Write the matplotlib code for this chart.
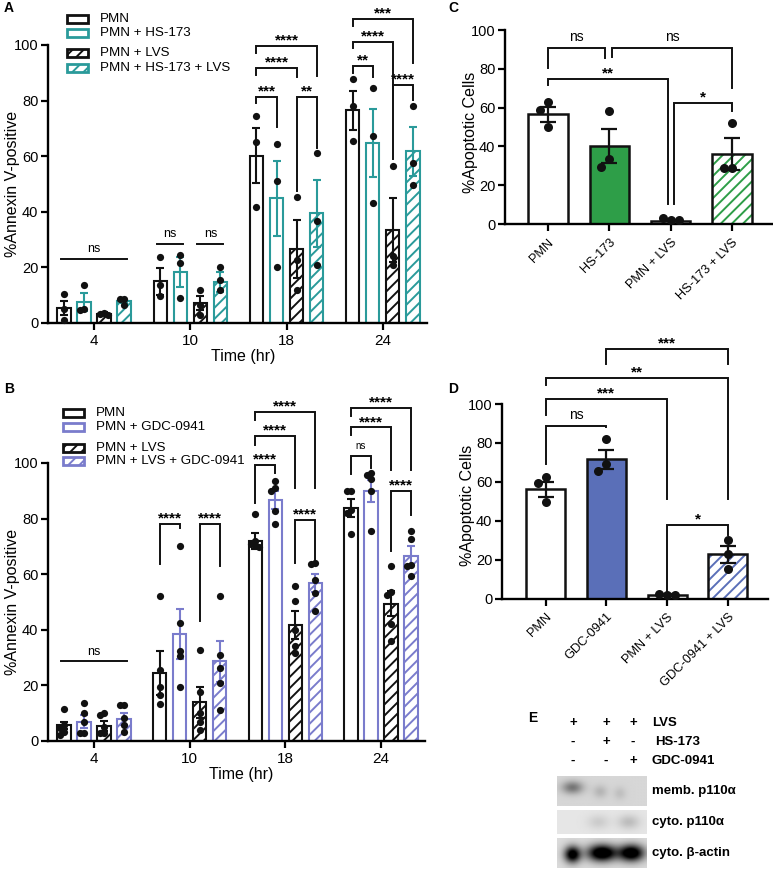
import numpy as np
import matplotlib
matplotlib.use('Agg')
import matplotlib.pyplot as plt
from matplotlib.patches import Rectangle

plt.rcParams['font.family'] = ['Liberation Sans', 'DejaVu Sans']
plt.rcParams['hatch.linewidth'] = 1.4
plt.rcParams['axes.linewidth'] = 1.7

# ------------------------------------------------------------------ data
times = ['4', '10', '18', '24']

# Panel A
A_series = ['PMN', 'PMN + HS-173', 'PMN + LVS', 'PMN + HS-173 + LVS']
A_pmn_mean = [5.4, 15.0, 60.2, 76.6]
A_pmn_sem = [2.6, 4.8, 9.8, 7.0]
A_pmn_pts = [[10.5, 5.0, 1.0], [23.6, 13.5, 9.6], [74.5, 65.0, 41.9], [87.7, 78.1, 65.3]]
A_hs_mean = [7.5, 18.3, 44.9, 64.7]
A_hs_sem = [3.3, 5.3, 13.5, 12.3]
A_hs_pts = [[13.7, 5.0, 4.8], [24.5, 21.6, 9.0], [64.4, 51.1, 20.1], [84.4, 67.1, 43.1]]
A_lvs_mean = [3.3, 7.2, 26.6, 33.5]
A_lvs_sem = [0.5, 2.4, 10.3, 11.6]
A_lvs_pts = [[3.6, 3.3, 3.0], [12.0, 6.6, 3.0], [45.5, 22.8, 12.0], [56.5, 24.2, 21.0]]
A_hslvs_mean = [7.8, 14.6, 39.5, 61.7]
A_hslvs_sem = [0.6, 3.6, 12.0, 8.7]
A_hslvs_pts = [[8.5, 8.5, 6.5], [20.0, 15.6, 11.7], [61.3, 36.8, 21.0], [78.1, 57.5, 49.5]]

# Panel B
B_series = ['PMN', 'PMN + GDC-0941', 'PMN + LVS', 'PMN + LVS + GDC-0941']
B_pmn_mean = [5.6, 24.4, 72.0, 83.8]
B_pmn_sem = [1.4, 7.8, 2.8, 3.2]
B_pmn_pts = [[11.6, 5.8, 4.6, 3.4, 2.2], [52.3, 25.6, 19.6, 16.6, 13.3],
             [81.8, 72.0, 71.0, 70.5, 69.8], [90.0, 89.8, 83.2, 82.0, 74.5]]
B_gdc_mean = [7.0, 38.5, 86.8, 90.0]
B_gdc_sem = [2.4, 9.0, 3.2, 4.0]
B_gdc_pts = [[13.6, 10.0, 7.0, 2.8, 2.8], [70.2, 42.4, 32.2, 30.4, 19.6],
             [93.4, 91.0, 89.8, 82.6, 78.0], [96.4, 95.8, 94.2, 89.8, 75.7]]
B_lvs_mean = [5.4, 13.9, 41.8, 49.3]
B_lvs_sem = [1.8, 5.7, 5.1, 4.5]
B_lvs_pts = [[10.2, 9.4, 5.2, 3.0, 2.8], [32.8, 17.8, 10.0, 7.0, 4.0],
             [55.6, 50.4, 40.0, 34.0, 31.6], [62.8, 53.5, 52.5, 42.0, 36.0]]
B_lvsgdc_mean = [7.9, 28.6, 56.8, 66.6]
B_lvsgdc_sem = [2.1, 7.2, 3.3, 3.4]
B_lvsgdc_pts = [[12.8, 12.8, 8.2, 5.8, 3.4], [52.2, 31.0, 26.2, 20.8, 11.2],
                [64.0, 63.7, 58.0, 53.2, 46.6], [75.4, 72.7, 63.4, 63.0, 59.2]]

# Panel C
C_groups = ['PMN', 'HS-173', 'PMN + LVS', 'HS-173 + LVS']
C_mean = [56.5, 40.2, 1.8, 36.1]
C_sem = [3.7, 9.0, 0.3, 8.3]
C_pts = [[62.7, 58.8, 50.2], [58.2, 33.3, 29.6], [2.0, 2.9, 2.0], [52.2, 28.7, 28.7]]

# Panel D
D_groups = ['PMN', 'GDC-0941', 'PMN + LVS', 'GDC-0941 + LVS']
D_mean = [56.2, 71.5, 1.8, 22.7]
D_sem = [3.8, 5.0, 0.3, 4.3]
D_pts = [[62.5, 59.6, 49.7], [82.0, 69.0, 65.3], [1.8, 2.3, 1.9], [30.3, 23.1, 15.1]]

# Significance annotations: (group, bar1, bar2, y, leg1 bottom, leg2 bottom, label)
A_sig = [(2, 0, 1, 81.4, 79.0, 70.6, '***'), (2, 2, 3, 81.4, 47.5, 62.9, '**'),
         (2, 0, 2, 91.6, 89.2, 88.6, '****'), (2, 0, 3, 99.6, 97.0, 88.9, '****'),
         (3, 0, 1, 92.4, 90.0, 88.6, '**'), (3, 0, 2, 101.2, 98.8, 80.5, '****'),
         (3, 0, 3, 109.3, 106.8, 93.4, '***'), (3, 2, 3, 85.6, 58.9, 80.2, '****')]
A_ns = [(0, 0, 3, 23.0), (1, 0, 1, 28.4), (1, 2, 3, 28.4)]
B_sig = [(1, 0, 1, 78.2, 63.7, 76.6, '****'), (1, 2, 3, 78.2, 43.0, 62.8, '****'),
         (2, 0, 1, 99.4, 85.6, 96.5, '****'), (2, 0, 2, 109.6, 106.6, 91.0, '****'),
         (2, 0, 3, 118.3, 115.5, 91.0, '****'), (2, 2, 3, 79.6, 64.0, 65.2, '****'),
         (3, 0, 1, 102.6, 96.0, 98.2, 'ns'), (3, 0, 2, 112.8, 110.0, 97.6, '****'),
         (3, 0, 3, 119.8, 117.0, 97.6, '****'), (3, 2, 3, 89.8, 68.2, 81.4, '****')]
B_ns = [(0, 0, 3, 28.6)]
# (bar1, bar2, y, leg1 bottom, leg2 bottom, label, shift1, shift2)
C_sig = [(0, 1, 90.9, 80.6, 85.4, 'ns', 0.0, -0.07), (1, 3, 90.9, 85.9, 69.9, 'ns', 0.045, 0.0),
         (0, 2, 74.6, 71.8, 10.3, '**', 0.0, -0.04), (2, 3, 62.2, 10.3, 58.2, '*', 0.06, 0.0)]
D_sig = [(0, 1, 88.8, 69.0, 88.0, 'ns', 0.0, 0.0), (0, 2, 102.4, 94.4, 51.3, '***', 0.0, 0.0),
         (0, 3, 113.6, 109.7, 51.3, '**', 0.0, 0.0), (1, 3, 128.3, 120.7, 120.7, '***', 0.0, 0.0),
         (2, 3, 37.7, 3.4, 32.5, '*', 0.0, 0.0)]

# Panel E (western blot)
E_lvs = ['+', '+', '+']
E_hs = ['-', '+', '-']
E_gdc = ['-', '-', '+']
E_rows = ['LVS', 'HS-173', 'GDC-0941']
E_blots = ['memb. p110\u03b1', 'cyto. p110\u03b1', 'cyto. \u03b2-actin']
memb_p110 = [0.38, 0.13, 0.09]
cyto_p110 = [0.0, 0.10, 0.16]
cyto_actin = [1.0, 1.15, 1.1]

# ------------------------------------------------------------------ styles
W, H = 773, 869
fig = plt.figure(figsize=(W / 100, H / 100), dpi=100)

TEAL = '#2a9a9a'
LAV = '#7a7ccc'
GREEN = '#2e9e48'
BLUE = '#5a6fb8'
BLACK = '#111111'


def px_axes(x0, y0, x1, y1):
    return fig.add_axes([x0 / W, 1 - y1 / H, (x1 - x0) / W, (y1 - y0) / H])


def ftext(x, y, s, **kw):
    fig.text(x / W, 1 - y / H, s, **kw)


def swarm(ax, x0, ys, diam=7.0, overlap=0.6):
    placed = []
    xs = []
    step = diam * overlap
    for y in ys:
        xd0, yd = ax.transData.transform((x0, y))
        chosen = xd0
        for k in [0, -1, 1, -2, 2, -3, 3]:
            xc = xd0 + k * step
            if all((xc - px) ** 2 + (yd - py) ** 2 >= step ** 2 for px, py in placed):
                chosen = xc
                break
        placed.append((chosen, yd))
        xs.append(ax.transData.inverted().transform((chosen, yd))[0])
    return xs


def bracket(ax, x1, x2, y, b1, b2, label, star_fs=11, ns_fs=9):
    ax.plot([x1, x1, x2, x2], [b1, y, y, b2], color=BLACK, lw=1.4, clip_on=False,
            solid_joinstyle='miter', zorder=5)
    if label == 'ns':
        ax.annotate(label, xy=((x1 + x2) / 2, y), xytext=(0, 5), textcoords='offset points',
                    ha='center', va='baseline', fontsize=ns_fs, annotation_clip=False)
    else:
        ax.annotate(label, xy=((x1 + x2) / 2, y), xytext=(0, 1), textcoords='offset points',
                    ha='center', va='baseline', fontsize=star_fs, fontweight='bold',
                    annotation_clip=False)


def style_axes(ax):
    ax.spines['top'].set_visible(False)
    ax.spines['right'].set_visible(False)
    ax.tick_params(axis='both', direction='out', length=5, width=1.6, labelsize=10.5, pad=2)
    ax.set_ylim(0, 100)
    ax.set_yticks([0, 20, 40, 60, 80, 100])
    ax.set_facecolor('none')


offsets = [-0.3125, -0.104, 0.104, 0.3125]
bw = 0.14


def grouped_panel(ax, means, sems, pts, colors, hatches, sig, ns, ns_fs):
    style_axes(ax)
    ax.set_xlim(-0.48, 3.46)
    ax.set_xticks(range(len(times)))
    ax.set_xticklabels(times)
    ax.tick_params(axis='x', pad=3, labelsize=11)
    for s in range(4):
        xs = np.arange(len(times)) + offsets[s]
        ax.bar(xs, means[s], width=bw, facecolor='white', edgecolor=colors[s],
               linewidth=1.5, hatch=hatches[s], zorder=2)
        ax.errorbar(xs, means[s], yerr=sems[s], fmt='none', ecolor=colors[s],
                    elinewidth=1.5, capsize=3, capthick=1.5, zorder=3)
    for s in range(4):
        for g in range(len(times)):
            x0 = g + offsets[s]
            xs = swarm(ax, x0, pts[s][g], diam=6.5, overlap=0.6)
            ax.plot(xs, pts[s][g], 'o', color=BLACK, ms=5.2, mec='none', zorder=4, clip_on=False)
    for g, i, j, y, b1, b2, lab in sig:
        bracket(ax, g + offsets[i], g + offsets[j], y, b1, b2, lab, star_fs=11,
                ns_fs=ns_fs)
    for g, i, j, y in ns:
        x1, x2 = g + offsets[i] - 0.03, g + offsets[j] + 0.03
        ax.plot([x1, x2], [y, y], color=BLACK, lw=1.4, zorder=5)
        ax.annotate('ns', xy=((x1 + x2) / 2, y), xytext=(0, 5), textcoords='offset points',
                    ha='center', va='baseline', fontsize=9)


def legend_manual(x0, ys, labels, colors, hatches):
    for y, lab, c, h in zip(ys, labels, colors, hatches):
        r = Rectangle(((x0) / W, 1 - (y + 4) / H), 21 / W, 8 / H, transform=fig.transFigure,
                      facecolor='white', edgecolor=c, lw=2.0, hatch=h)
        fig.add_artist(r)
        ftext(x0 + 33, y, lab, fontsize=9.6, va='center', ha='left')


# ------------------------------------------------------------------ Panel A
axA = px_axes(48, 45, 427, 323)
grouped_panel(axA, [A_pmn_mean, A_hs_mean, A_lvs_mean, A_hslvs_mean],
              [A_pmn_sem, A_hs_sem, A_lvs_sem, A_hslvs_sem],
              [A_pmn_pts, A_hs_pts, A_lvs_pts, A_hslvs_pts],
              [BLACK, TEAL, BLACK, TEAL], ['', '', '///', '///'], A_sig, A_ns, 9)
legend_manual(67, [19, 33, 53, 68], A_series, [BLACK, TEAL, BLACK, TEAL], ['', '', '///', '///'])
ftext(13, 184, '%Annexin V-positive', rotation=90, ha='center', va='center', fontsize=11.5)
ftext(243, 357, 'Time (hr)', ha='center', va='center', fontsize=11.5)
ftext(4, 8, 'A', fontsize=10, fontweight='bold', ha='left', va='center')

# ------------------------------------------------------------------ Panel B
axB = px_axes(48, 463, 425, 741)
grouped_panel(axB, [B_pmn_mean, B_gdc_mean, B_lvs_mean, B_lvsgdc_mean],
              [B_pmn_sem, B_gdc_sem, B_lvs_sem, B_lvsgdc_sem],
              [B_pmn_pts, B_gdc_pts, B_lvs_pts, B_lvsgdc_pts],
              [BLACK, LAV, BLACK, LAV], ['', '', '///', '///'], B_sig, B_ns, 7)
legend_manual(63, [413, 427, 448, 461], B_series, [BLACK, LAV, BLACK, LAV], ['', '', '///', '///'])
ftext(13, 602, '%Annexin V-positive', rotation=90, ha='center', va='center', fontsize=11.5)
ftext(241, 774, 'Time (hr)', ha='center', va='center', fontsize=11.5)
ftext(4, 389, 'B', fontsize=10, fontweight='bold', ha='left', va='center')


# ------------------------------------------------------------------ Panels C & D
def single_panel(ax, groups, means, sems, pts, fill, hatch_color, sig, xlim):
    style_axes(ax)
    ax.set_xlim(*xlim)
    x = np.arange(len(groups))
    faces = ['white', fill, 'white', 'white']
    for i in range(len(groups)):
        if i == 3:
            ax.bar(x[i], means[i], width=0.64, facecolor='white', edgecolor=hatch_color,
                   linewidth=0, hatch='///', zorder=2)
            ax.bar(x[i], means[i], width=0.64, fill=False, edgecolor=BLACK,
                   linewidth=1.8, zorder=2.1)
        else:
            ax.bar(x[i], means[i], width=0.64, facecolor=faces[i], edgecolor=BLACK,
                   linewidth=1.8, zorder=2)
    ax.errorbar(x, means, yerr=sems, fmt='none', ecolor=BLACK, elinewidth=1.6,
                capsize=6, capthick=1.6, zorder=3)
    for i in range(len(groups)):
        xs = swarm(ax, x[i], pts[i], diam=8.0, overlap=1.0)
        ax.plot(xs, pts[i], 'o', color=BLACK, ms=6.5, mec='none', zorder=4, clip_on=False)
    ax.set_xticks(x)
    ax.set_xticklabels(groups, rotation=45, ha='right', va='top', rotation_mode='anchor',
                       fontsize=9.2)
    ax.tick_params(axis='x', pad=4)
    for i, j, y, b1, b2, lab, s1, s2 in sig:
        bracket(ax, x[i] + s1, x[j] + s2, y, b1, b2, lab, star_fs=11, ns_fs=10)


axC = px_axes(505, 30, 773, 224)
single_panel(axC, C_groups, C_mean, C_sem, C_pts, GREEN, GREEN, C_sig, (-0.7, 3.67))
ftext(470, 132, '%Apoptotic Cells', rotation=90, ha='center', va='center', fontsize=11.5)
ftext(448, 8, 'C', fontsize=10, fontweight='bold', ha='left', va='center')

axD = px_axes(502, 404, 768, 598.5)
single_panel(axD, D_groups, D_mean, D_sem, D_pts, BLUE, BLUE, D_sig, (-0.72, 3.66))
ftext(467, 505, '%Apoptotic Cells', rotation=90, ha='center', va='center', fontsize=11.5)
ftext(448, 389, 'D', fontsize=10, fontweight='bold', ha='left', va='center')

# ------------------------------------------------------------------ Panel E
ftext(528, 718, 'E', fontsize=10, fontweight='bold', ha='left', va='center')
lane_px = [573, 606, 633]
for row_y, signs, lab, lab_x in zip([723, 742, 761], [E_lvs, E_hs, E_gdc], E_rows,
                                    [652, 655, 652]):
    for lx, s in zip(lane_px, signs):
        ftext(lx, row_y, s, fontsize=9.5, fontweight='bold', ha='center', va='center')
    ftext(lab_x, row_y, lab, fontsize=9.5, fontweight='bold', ha='left', va='center')


def blot_image(intens, bg, cu, cv, su, sv, ny=40, nx=120):
    v, u = np.mgrid[0:1:ny * 1j, 0:1:nx * 1j]
    img = np.full((ny, nx), bg)
    for k in range(len(intens)):
        img = img - intens[k] * np.exp(-((u - cu[k]) / su[k]) ** 2 - ((v - cv[k]) / sv) ** 2)
    return np.clip(img, 0, 1)


strips = [(776, 806), (810, 834), (838, 868)]
imgs = [
    blot_image(memb_p110, 0.84, [0.17, 0.48, 0.7], [0.38, 0.52, 0.58], [0.12, 0.08, 0.07], 0.22),
    blot_image(cyto_p110, 0.9, [0.17, 0.46, 0.8], [0.5, 0.5, 0.5], [0.1, 0.12, 0.12], 0.3),
    blot_image(cyto_actin, 0.86, [0.17, 0.5, 0.83], [0.55, 0.5, 0.5], [0.09, 0.16, 0.14], 0.28),
]
for (y0, y1), img, lab in zip(strips, imgs, E_blots):
    axb = px_axes(557, y0, 647, y1)
    axb.imshow(img, cmap='gray', vmin=0, vmax=1, aspect='auto', interpolation='bilinear')
    axb.axis('off')
    ftext(652, (y0 + y1) / 2, lab, fontsize=9.5, fontweight='bold', ha='left', va='center')

fig.savefig('out.png', dpi=100)
